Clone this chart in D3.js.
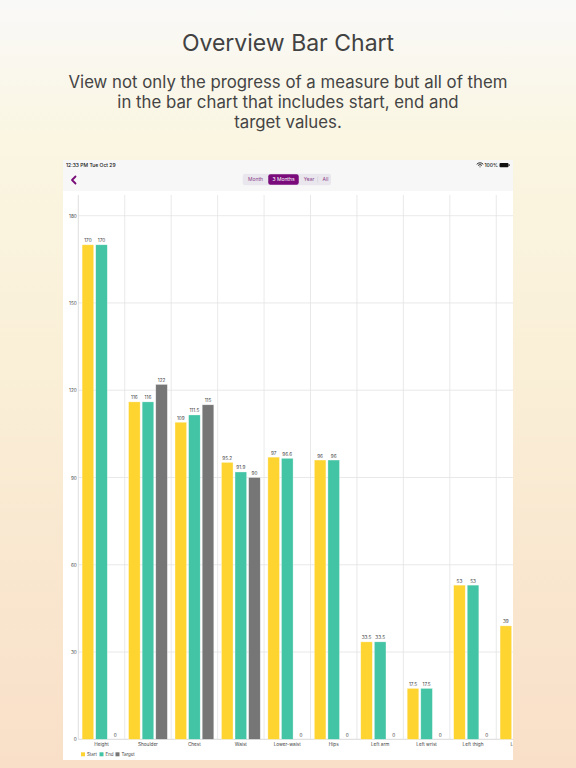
<!DOCTYPE html>
<html>
<head>
<meta charset="utf-8">
<script src="https://cdn.jsdelivr.net/npm/d3@7"></script>
<style>
  html, body { margin: 0; padding: 0; }
  body { width: 576px; height: 768px; overflow: hidden; }
  text { font-family: Inter, "Noto Sans", sans-serif; }
</style>
</head>
<body>
<svg id="chart" width="576" height="768"></svg>
<script>
// chart values
var categories = ["Height", "Shoulder", "Chest", "Waist", "Lower-waist", "Hips", "Left arm", "Left wrist", "Left thigh", "Left calf"];
var startValues = [170, 116, 109, 95.2, 97, 96, 33.5, 17.5, 53, 39];
var endValues = [170, 116, 111.5, 91.9, 96.6, 96, 33.5, 17.5, 53, 39];
var targetValues = [0, 122, 115, 90, 0, 0, 0, 0, 0, 0];
var seriesNames = ["Start", "End", "Target"];
var yTicks = [0, 30, 60, 90, 120, 150, 180];
var rangeNames = ["Month", "3 Months", "Year", "All"];

var colors = {Start: "#fed431", End: "#42c4a5", Target: "#767676"};

var svg = d3.select("#chart");

// page background
var defs = svg.append("defs");
var grad = defs.append("linearGradient").attr("id", "bg").attr("x1", 0).attr("y1", 0).attr("x2", 0).attr("y2", 1);
grad.append("stop").attr("offset", "0%").attr("stop-color", "#f9f9f8");
grad.append("stop").attr("offset", "18%").attr("stop-color", "#faf6e2");
grad.append("stop").attr("offset", "45%").attr("stop-color", "#faf0d8");
grad.append("stop").attr("offset", "100%").attr("stop-color", "#f9dfc8");
svg.append("rect").attr("width", 576).attr("height", 768).attr("fill", "url(#bg)");

svg.append("text").attr("x", 288).attr("y", 51).attr("text-anchor", "middle")
  .attr("font-size", 23).attr("fill", "#424242").text("Overview Bar Chart");

var subLines = ["View not only the progress of a measure but all of them",
                "in the bar chart that includes start, end and",
                "target values."];
svg.selectAll(".sub").data(subLines).enter().append("text")
  .attr("class", "sub")
  .attr("x", 288).attr("y", function(d, i){ return 88 + i * 20; })
  .attr("text-anchor", "middle").attr("font-size", 16.8).attr("fill", "#444")
  .text(function(d){ return d; });

// device screen
var screen = {left: 63, right: 513, top: 160, bottom: 760};
svg.append("rect").attr("x", screen.left).attr("y", screen.top)
  .attr("width", screen.right - screen.left).attr("height", screen.bottom - screen.top)
  .attr("fill", "#ffffff");
svg.append("rect").attr("x", screen.left).attr("y", screen.top)
  .attr("width", screen.right - screen.left).attr("height", 31)
  .attr("fill", "#f7f7f7");

// status bar
svg.append("text").attr("x", 66).attr("y", 167).attr("font-size", 5).attr("font-weight", 500)
  .attr("fill", "#111").text("12:33 PM  Tue Oct 29");
svg.append("text").attr("x", 498).attr("y", 167).attr("text-anchor", "end").attr("font-size", 5)
  .attr("font-weight", 500).attr("fill", "#111").text("100%");
svg.append("path").attr("d", "M477,164 a4,4 0 0 1 6,0 M478.3,165.3 a2.2,2.2 0 0 1 3.4,0 M480,166.8 l0,0.1")
  .attr("fill", "none").attr("stroke", "#111").attr("stroke-width", 0.9).attr("stroke-linecap", "round");
svg.append("rect").attr("x", 499.5).attr("y", 163).attr("width", 9).attr("height", 4.2).attr("rx", 1).attr("fill", "#111");
svg.append("rect").attr("x", 508.8).attr("y", 164.2).attr("width", 0.8).attr("height", 1.8).attr("fill", "#111");

// nav bar: back chevron + segmented control
svg.append("path").attr("d", "M75.5,176.5 L72,180 L75.5,183.5")
  .attr("fill", "none").attr("stroke", "#780a78").attr("stroke-width", 1.8)
  .attr("stroke-linecap", "round").attr("stroke-linejoin", "round");

var segX = d3.scaleOrdinal().domain(rangeNames).range([255.5, 283.5, 309, 325.5]);
var segW = d3.scaleOrdinal().domain(rangeNames).range([25, 30.5, 15, 12]);
svg.append("rect").attr("x", 242.7).attr("y", 173.7).attr("width", 88.3).attr("height", 11.6)
  .attr("rx", 2.5).attr("fill", "#e9e7ed");
svg.append("rect").attr("x", segX("3 Months") - segW("3 Months") / 2).attr("y", 174.2)
  .attr("width", segW("3 Months")).attr("height", 10.6).attr("rx", 2.2).attr("fill", "#790c7a");
svg.append("line").attr("x1", 317.7).attr("x2", 317.7).attr("y1", 176.5).attr("y2", 182.5)
  .attr("stroke", "#cfcbd4").attr("stroke-width", 0.5);
svg.selectAll(".seg").data(rangeNames).enter().append("text")
  .attr("class", "seg")
  .attr("x", function(d){ return segX(d); }).attr("y", 181.3)
  .attr("text-anchor", "middle").attr("font-size", 5)
  .attr("fill", function(d){ return d == "3 Months" ? "#ffffff" : "#8a3d8c"; })
  .text(function(d){ return d; });

// chart area
var x0 = d3.scaleBand().domain(categories).range([78.3, 78.3 + 46.44 * categories.length]).padding(0);
var x1 = d3.scaleBand().domain(seriesNames).range([0, x0.bandwidth()]).paddingInner(0.147).paddingOuter(0.28);
var y = d3.scaleLinear().domain([0, 180]).range([739.3, 215.7]);

defs.append("clipPath").attr("id", "screenclip").append("rect")
  .attr("x", screen.left).attr("y", screen.top)
  .attr("width", screen.right - screen.left).attr("height", screen.bottom - screen.top);

var g = svg.append("g").attr("clip-path", "url(#screenclip)");

// horizontal grid
g.append("g").selectAll("line").data(yTicks).enter().append("line")
  .attr("x1", 78.3).attr("x2", screen.right)
  .attr("y1", function(d){ return y(d); }).attr("y2", function(d){ return y(d); })
  .attr("stroke", function(d){ return d == 0 ? "#cfcfcf" : "#e3e3e3"; }).attr("stroke-width", 0.8);

// vertical grid at category boundaries
var bounds = categories.map(function(c){ return x0(c); });
g.append("g").selectAll("line").data(bounds).enter().append("line")
  .attr("x1", function(d){ return d; }).attr("x2", function(d){ return d; })
  .attr("y1", 195).attr("y2", y(0))
  .attr("stroke", function(d, i){ return i == 0 ? "#d6d6d6" : "#e3e3e3"; }).attr("stroke-width", 0.8);

// y axis labels
var yAxis = d3.axisLeft(y).tickValues(yTicks).tickSize(0).tickPadding(0);
var ya = svg.append("g").attr("transform", "translate(76.8,0)").call(yAxis);
ya.select(".domain").remove();
ya.selectAll("text").attr("font-size", 4.7).attr("fill", "#4a4a4a").attr("font-family", "Inter, sans-serif");

// bars
var rows = categories.map(function(c, i){
  return {cat: c, vals: [
    {key: "Start", v: startValues[i]},
    {key: "End", v: endValues[i]},
    {key: "Target", v: targetValues[i]}
  ]};
});

var groups = g.selectAll(".grp").data(rows).enter().append("g")
  .attr("class", "grp")
  .attr("transform", function(d){ return "translate(" + x0(d.cat) + ",0)"; });

groups.selectAll("rect").data(function(d){ return d.vals; }).enter().append("rect")
  .attr("x", function(d){ return x1(d.key); })
  .attr("y", function(d){ return y(d.v); })
  .attr("width", x1.bandwidth())
  .attr("height", function(d){ return y(0) - y(d.v); })
  .attr("fill", function(d){ return colors[d.key]; })
  .attr("stroke", function(d){ return d.v > 0 ? "rgba(255,255,255,0.55)" : "none"; })
  .attr("stroke-width", 0.6);

groups.selectAll("text").data(function(d){ return d.vals; }).enter().append("text")
  .attr("x", function(d){ return x1(d.key) + x1.bandwidth() / 2; })
  .attr("y", function(d){ return y(d.v) - 2.5; })
  .attr("text-anchor", "middle").attr("font-size", 4.7).attr("fill", "#444")
  .text(function(d){ return String(d.v); });

// x labels
g.append("g").selectAll("text").data(categories).enter().append("text")
  .attr("x", function(d){ return x0(d) + x0.bandwidth() / 2; })
  .attr("y", 745.7).attr("text-anchor", "middle").attr("font-size", 4.7).attr("fill", "#444")
  .text(function(d){ return d; });

// legend
var legX = d3.scaleOrdinal().domain(seriesNames).range([81, 99.5, 115.5]);
var leg = svg.append("g").selectAll("g").data(seriesNames).enter().append("g")
  .attr("transform", function(d){ return "translate(" + legX(d) + ",752.3)"; });
leg.append("rect").attr("width", 4).attr("height", 4).attr("fill", function(d){ return colors[d]; });
leg.append("text").attr("x", 6).attr("y", 3.6).attr("font-size", 4.4).attr("fill", "#444")
  .text(function(d){ return d; });
</script>
</body>
</html>
